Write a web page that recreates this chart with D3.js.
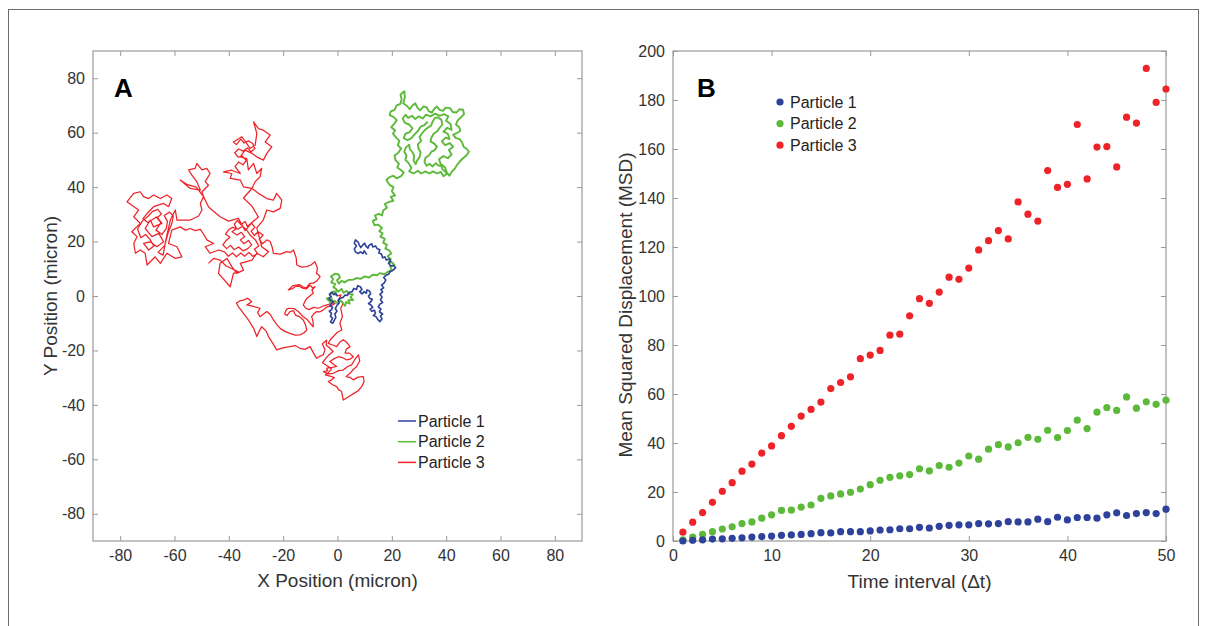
<!DOCTYPE html>
<html><head><meta charset="utf-8">
<script src="https://cdn.jsdelivr.net/npm/d3@7"></script>
<style>body{margin:0;background:#fff}svg{display:block}</style>
</head><body>
<script>
// ---------- DATA ----------
const seriesNames = ["Particle 1", "Particle 2", "Particle 3"];
const seriesColors = ["#2e429c", "#5db93a", "#ee2328"];

// Panel A trajectories (micron)
const particle1Path = [[0,0],[-0.6,0.9],[-1.4,0.5],[-2.1,1.4],[-3.0,0.6],[-2.4,-0.2],[-3.2,-1.0],[-2.5,-1.6],[-1.5,-2.1],[-2.2,-2.8],[-2.8,-3.6],[-1.8,-4.2],[-2.2,-5.0],[-3.0,-5.6],[-2.2,-6.4],[-2.6,-7.4],[-1.8,-8.2],[-2.6,-9.5],[-1.8,-10.0],[-1.2,-9.0],[-0.6,-7.8],[-1.0,-6.6],[-0.2,-5.6],[-0.8,-4.6],[-0.2,-3.4],[0.6,-2.6],[0.2,-1.6],[1.0,-0.8],[2.1,-0.5],[2.8,0.4],[3.6,0.2],[4.4,1.4],[5.4,1.6],[6.0,2.8],[7.0,2.4],[7.4,3.8],[8.4,3.4],[9.0,2.4],[8.2,1.6],[9.0,0.8],[9.8,1.6],[10.6,1.0],[10.8,2.2],[11.8,1.8],[12.2,0.8],[11.4,0.0],[11.8,-0.8],[12.8,-1.2],[12.2,-2.2],[11.4,-2.8],[12.4,-3.4],[13.0,-4.2],[12.0,-4.8],[12.6,-5.6],[13.6,-5.2],[14.0,-6.4],[13.2,-7.2],[14.2,-7.6],[14.8,-8.6],[15.6,-9.4],[16.4,-8.4],[15.8,-7.4],[16.6,-6.6],[15.4,-5.8],[16.0,-4.8],[15.0,-4.0],[15.6,-3.0],[16.6,-2.4],[15.8,-1.4],[16.4,-0.4],[15.6,0.6],[16.6,1.4],[16.0,2.4],[17.0,3.0],[16.2,4.0],[17.2,4.8],[17.8,5.9],[17.0,6.8],[17.8,7.6],[18.8,8.0],[19.4,9.0],[20.4,9.4],[21.4,10.4],[20.6,11.2],[19.6,11.0],[18.8,12.0],[19.6,12.8],[19.0,13.6],[18.0,13.2],[17.4,14.4],[16.6,14.0],[16.2,15.4],[15.2,15.8],[15.6,17.0],[14.6,17.4],[14.0,18.4],[13.0,18.0],[12.6,19.2],[11.6,18.6],[11.2,17.6],[10.4,18.4],[10.0,19.4],[9.2,18.6],[8.6,17.8],[8.0,18.8],[7.6,19.8],[6.6,20.6],[6.2,19.4],[7.0,18.4],[6.2,17.4],[6.6,16.2],[7.6,15.6],[8.4,16.2],[9.4,15.6],[9.8,16.6],[10.8,15.2]];

const particle2Path = [[0,0],[-1.2,0.8],[-0.5,1.8],[-1.8,1.5],[-2.8,0.4],[-2.2,-0.6],[-4.0,-0.9],[-3.2,-1.8],[-2.0,-1.2],[-2.8,-2.6],[-1.0,-1.8],[0.2,-2.8],[0.9,-1.5],[1.8,-2.4],[2.8,-3.6],[3.2,-2.2],[4.5,-2.8],[4.0,-1.5],[5.8,-1.5],[4.8,-0.5],[5.6,0.6],[4.2,0.8],[3.4,1.9],[2.2,1.2],[1.5,2.6],[0.2,1.6],[-0.5,2.6],[-1.5,3.2],[-0.8,4.4],[-2.3,5.0],[-1.6,6.2],[-2.4,7.2],[-1.0,8.2],[0.3,8.0],[0.9,6.8],[-0.2,5.8],[0.5,4.6],[1.6,5.6],[2.6,5.0],[4.0,5.9],[5.8,6.0],[7.0,6.6],[8.5,6.3],[10.0,7.2],[11.6,6.8],[13.0,7.8],[14.6,7.6],[15.6,8.4],[17.2,8.0],[18.7,9.0],[20.0,9.6],[19.4,10.8],[21.0,11.4],[20.0,12.4],[18.8,12.2],[19.6,13.6],[18.4,14.6],[19.8,15.6],[19.0,16.8],[17.6,17.4],[18.2,18.8],[16.8,19.6],[17.4,21.0],[15.8,21.8],[16.6,23.0],[15.4,23.8],[16.4,25.0],[15.0,26.2],[13.6,26.0],[13.0,27.6],[14.4,28.2],[13.8,29.6],[15.2,30.2],[16.4,29.6],[16.8,31.4],[18.2,32.4],[17.4,33.8],[19.0,34.6],[20.6,35.0],[19.6,36.4],[21.2,37.0],[20.0,38.4],[20.6,40.0],[19.2,40.8],[18.0,42.6],[19.0,43.6],[20.6,44.2],[21.8,43.2],[23.4,44.0],[24.4,45.4],[23.2,46.4],[22.0,47.2],[22.6,48.6],[21.4,49.8],[21.0,51.6],[22.4,52.6],[23.4,54.2],[22.2,55.4],[22.8,57.0],[21.6,58.2],[20.4,59.6],[21.2,60.8],[19.8,62.0],[20.8,63.2],[21.8,64.6],[20.6,65.8],[19.2,66.4],[19.6,67.8],[21.0,68.4],[21.8,70.0],[23.2,70.6],[23.6,72.4],[23.2,74.0],[24.6,75.2],[24.8,73.0],[24.2,70.8],[25.6,69.8],[26.6,68.6],[27.6,70.0],[28.6,70.8],[29.4,69.2],[30.4,68.2],[31.6,69.6],[32.8,69.4],[33.6,67.8],[34.8,67.4],[35.6,68.8],[36.6,69.6],[37.6,68.4],[38.8,68.0],[39.8,69.2],[41.4,69.0],[42.4,67.6],[43.8,67.4],[44.8,68.6],[46.2,68.4],[46.6,66.8],[45.4,65.6],[44.2,64.4],[43.6,63.0],[44.8,62.0],[45.2,60.6],[43.8,59.8],[42.6,59.2],[43.6,58.0],[45.0,57.6],[46.0,56.2],[46.4,54.8],[47.6,54.0],[48.4,53.0],[47.4,51.6],[46.2,50.6],[45.0,49.4],[44.0,48.2],[43.2,46.8],[42.0,45.6],[41.2,44.2],[40.2,45.4],[39.6,47.2],[38.4,48.2],[37.2,47.8],[36.2,48.8],[35.0,47.6],[33.8,48.6],[32.8,47.8],[32.0,49.2],[32.4,50.8],[33.6,51.6],[34.6,53.0],[35.8,53.6],[36.6,54.8],[35.6,56.0],[34.2,56.8],[34.6,58.2],[35.4,59.6],[36.6,60.4],[37.6,61.8],[38.6,63.0],[38.2,64.8],[37.0,65.6],[35.8,65.4],[35.0,64.0],[34.4,62.6],[33.2,61.8],[32.0,60.8],[31.0,59.6],[30.2,58.4],[30.8,57.0],[29.6,55.8],[29.8,54.2],[30.6,52.8],[30.2,51.0],[29.2,49.6],[28.8,48.4],[28.0,49.8],[28.2,51.6],[27.6,52.8],[26.6,54.0],[26.4,55.6],[25.2,54.6],[24.6,53.0],[25.4,51.6],[25.0,50.0],[26.2,48.8],[27.2,47.0],[26.4,45.8],[28.0,45.0],[29.6,46.0],[30.8,45.0],[32.4,45.8],[33.8,45.0],[35.2,45.8],[36.6,45.0],[38.0,45.6],[39.0,44.0],[40.4,45.0],[38.6,46.6],[37.4,50.2],[39.0,51.4],[40.6,50.6],[42.0,52.0],[41.0,53.6],[42.6,54.8],[41.4,56.2],[39.6,55.4],[38.4,56.8],[39.8,58.2],[41.2,57.6],[40.6,59.6],[39.0,60.4],[40.4,61.8],[42.0,61.0],[41.6,63.2],[40.0,64.4],[40.8,66.0],[39.2,66.8],[37.6,66.2],[36.0,67.0],[34.2,66.0],[32.6,66.6],[31.4,65.2],[30.0,66.0],[28.6,65.0],[27.4,66.2],[26.0,65.4],[25.0,66.6],[24.0,65.2],[24.8,63.6],[26.4,63.0],[27.6,61.6],[26.6,60.2],[25.0,59.6],[24.4,58.0],[25.8,57.2],[27.2,58.0],[28.4,59.4],[29.6,60.6],[30.6,62.2],[32.0,62.8],[33.2,64.0]];

const particle3Path = [[0,0],[1.3,0.4],[0.5,-1.2],[2.1,-2.7],[1.2,-4.5],[1.8,-7.5],[0.9,-10.0],[1.6,-12.5],[-0.2,-13.4],[-1.5,-14.9],[-2.6,-16.0],[-3.4,-17.4],[-1.8,-18.0],[-0.3,-18.6],[0.8,-17.0],[2.1,-16.1],[3.4,-17.0],[4.6,-18.6],[3.2,-19.6],[2.8,-21.0],[4.4,-21.0],[5.8,-22.3],[4.6,-23.2],[3.4,-23.5],[1.8,-22.6],[0.3,-22.3],[-1.2,-23.0],[-2.8,-24.1],[-1.6,-25.0],[-0.3,-25.9],[-2.0,-26.2],[-4.0,-26.5],[-3.6,-27.4],[-5.2,-27.8],[-3.4,-28.6],[-1.5,-28.4],[0.4,-27.4],[2.1,-27.2],[3.6,-26.0],[5.2,-25.3],[6.2,-23.6],[7.7,-21.6],[8.2,-23.8],[7.1,-25.9],[5.8,-27.0],[4.6,-28.4],[3.2,-29.6],[4.8,-30.0],[5.8,-30.8],[7.6,-29.8],[9.5,-29.6],[9.8,-31.4],[8.9,-33.3],[7.6,-34.8],[6.5,-35.5],[4.4,-36.8],[2.1,-38.2],[1.8,-36.6],[1.5,-35.1],[0.4,-34.4],[-0.3,-33.3],[-1.8,-32.6],[-3.4,-31.4],[-2.2,-30.8],[-1.2,-30.0],[-2.8,-29.4],[-4.5,-29.0],[-3.2,-28.0],[-2.2,-26.8],[-3.8,-25.6],[-5.5,-24.5],[-4.4,-23.0],[-3.0,-21.5],[-1.6,-20.4],[-2.8,-19.2],[-4.2,-18.0],[-4.0,-16.2],[-5.6,-17.6],[-4.6,-19.6],[-5.2,-21.6],[-6.6,-22.2],[-7.7,-22.9],[-8.8,-21.0],[-10.1,-18.6],[-12.0,-19.6],[-13.8,-19.2],[-15.6,-18.2],[-17.5,-18.6],[-19.8,-19.0],[-22.4,-19.8],[-23.8,-17.4],[-25.4,-14.9],[-26.2,-13.0],[-27.9,-11.3],[-29.0,-13.2],[-29.7,-14.9],[-30.8,-12.0],[-32.8,-8.8],[-34.6,-6.4],[-36.5,-3.9],[-37.2,-2.6],[-36.0,-1.8],[-34.6,-1.5],[-33.0,-0.8],[-31.6,-2.1],[-32.6,-2.8],[-33.4,-3.3],[-31.0,-3.8],[-28.5,-4.5],[-29.4,-6.0],[-28.5,-7.6],[-27.2,-6.6],[-26.0,-5.7],[-24.6,-7.0],[-23.6,-8.8],[-22.4,-10.4],[-21.1,-11.9],[-19.4,-13.0],[-17.5,-13.7],[-15.6,-14.4],[-13.8,-14.3],[-12.4,-13.6],[-11.3,-12.5],[-11.8,-10.6],[-12.6,-8.8],[-14.0,-7.6],[-15.5,-7.0],[-16.2,-5.4],[-17.5,-5.7],[-18.6,-7.2],[-19.5,-6.5],[-18.8,-5.0],[-18.0,-4.5],[-16.0,-4.6],[-14.4,-5.7],[-13.4,-6.8],[-12.6,-7.6],[-11.2,-8.6],[-10.1,-10.0],[-8.9,-11.3],[-9.0,-9.4],[-9.5,-7.6],[-8.6,-6.4],[-7.7,-5.7],[-6.4,-5.8],[-5.2,-5.1],[-4.2,-4.2],[-3.4,-3.9],[-2.0,-3.4],[-0.9,-2.7],[-1.8,-2.4],[-3.0,-3.0],[-5.0,-3.6],[-7.0,-4.5],[-8.8,-4.2],[-10.5,-5.0],[-11.8,-4.4],[-12.6,-3.3],[-12.0,-2.0],[-11.3,-0.9],[-10.0,0.2],[-8.9,1.0],[-9.4,2.2],[-8.3,3.4],[-9.2,3.0],[-10.1,4.0],[-11.4,2.6],[-12.6,2.8],[-14.2,3.6],[-15.6,3.4],[-16.8,2.6],[-18.1,2.2],[-16.4,3.8],[-14.0,4.2],[-12.8,3.4],[-11.5,3.0],[-10.2,4.6],[-8.9,4.7],[-7.4,5.8],[-6.4,7.1],[-7.0,7.8],[-7.7,8.3],[-7.4,10.4],[-8.3,12.6],[-9.8,11.4],[-11.3,10.8],[-13.2,10.6],[-15.0,11.4],[-15.2,14.0],[-16.2,16.9],[-17.4,16.0],[-18.7,16.3],[-21.0,15.4],[-23.6,15.7],[-24.0,17.8],[-24.8,20.0],[-26.0,20.6],[-27.6,19.2],[-28.8,20.8],[-27.4,22.4],[-29.2,23.6],[-30.6,22.2],[-31.8,23.8],[-30.4,25.2],[-31.6,26.8],[-33.2,25.6],[-34.0,27.4],[-35.6,26.2],[-36.8,27.8],[-38.0,26.4],[-37.2,24.8],[-38.8,23.6],[-37.0,22.4],[-35.4,23.4],[-34.2,21.8],[-35.8,20.6],[-34.4,19.2],[-32.8,20.4],[-31.6,18.8],[-33.0,17.4],[-34.8,16.6],[-36.4,18.0],[-38.0,17.0],[-39.4,18.6],[-40.8,17.4],[-42.2,18.8],[-41.0,20.4],[-39.6,21.6],[-41.2,22.8],[-40.0,24.4],[-38.6,25.2],[-36.6,24.6],[-35.0,25.6],[-33.4,24.2],[-32.0,22.2],[-30.2,20.6],[-29.0,18.4],[-30.6,17.2],[-29.4,15.6],[-31.2,14.6],[-32.6,16.0],[-34.2,14.6],[-35.6,15.8],[-37.2,14.4],[-38.6,15.8],[-40.2,14.6],[-41.6,16.2],[-43.8,16.9],[-46.9,15.7],[-48.7,18.1],[-45.6,19.3],[-48.1,20.6],[-49.2,22.6],[-50.5,24.5],[-52.4,24.0],[-54.2,24.8],[-56.0,24.2],[-57.9,25.4],[-61.0,24.2],[-62.2,19.3],[-59.1,18.1],[-57.3,14.4],[-59.7,13.8],[-62.8,15.7],[-65.2,12.0],[-67.1,14.4],[-70.1,11.4],[-70.8,15.7],[-72.6,16.9],[-74.4,15.7],[-75.0,19.3],[-73.8,21.8],[-75.7,23.6],[-72.6,26.7],[-75.0,29.1],[-73.2,31.6],[-77.5,34.6],[-75.0,37.7],[-72.6,38.3],[-71.4,36.5],[-69.5,35.8],[-67.7,37.1],[-65.2,35.8],[-62.8,37.1],[-61.0,35.8],[-62.2,32.8],[-64.0,34.0],[-67.7,32.8],[-70.1,30.3],[-71.6,28.4],[-69.8,27.0],[-66.5,29.1],[-64.6,26.7],[-67.7,25.4],[-68.9,27.9],[-70.8,24.8],[-68.3,21.8],[-65.8,23.0],[-64.0,19.9],[-66.5,18.1],[-68.9,19.9],[-71.4,19.3],[-69.5,16.9],[-67.6,18.4],[-69.2,21.0],[-70.6,22.6],[-72.4,21.4],[-73.6,24.6],[-71.8,27.6],[-69.6,29.4],[-68.2,31.0],[-66.2,31.8],[-64.8,30.2],[-66.4,28.6],[-65.0,27.0],[-66.8,24.2],[-64.6,22.6],[-63.0,24.8],[-62.6,27.4],[-63.8,29.6],[-61.8,30.8],[-60.4,29.4],[-61.0,26.6],[-62.4,23.0],[-63.6,18.6],[-66.0,16.0],[-64.2,15.0],[-63.0,21.5],[-61.5,28.0],[-59.7,31.6],[-59.1,27.9],[-56.7,27.9],[-54.2,27.9],[-51.1,29.4],[-49.9,31.6],[-50.5,34.0],[-49.3,36.5],[-49.9,38.3],[-47.5,40.7],[-48.7,42.0],[-46.9,45.0],[-48.1,46.9],[-49.9,46.3],[-51.8,48.7],[-52.4,46.9],[-54.8,46.3],[-53.6,44.4],[-51.8,42.0],[-50.5,38.9],[-54.2,39.5],[-57.9,42.6],[-55.5,41.0],[-52.0,40.0],[-49.3,36.5],[-47.5,32.8],[-46.2,31.6],[-43.2,29.1],[-40.1,27.5],[-36.5,28.5],[-34.0,24.0],[-31.5,27.0],[-29.1,29.0],[-31.5,33.0],[-34.6,36.0],[-31.5,39.5],[-34.6,40.1],[-35.8,42.6],[-39.5,43.2],[-38.9,45.0],[-42.0,45.6],[-39.0,46.2],[-35.8,45.0],[-37.7,47.5],[-36.4,49.2],[-34.8,48.2],[-33.6,49.8],[-35.0,51.4],[-36.6,51.0],[-37.8,52.6],[-36.4,54.0],[-34.8,53.2],[-33.2,54.4],[-31.8,53.0],[-30.4,54.2],[-31.2,56.0],[-32.8,57.0],[-34.4,56.2],[-35.6,57.6],[-37.2,55.6],[-38.3,56.6],[-35.2,58.5],[-33.4,56.0],[-32.2,54.2],[-30.3,55.4],[-29.7,59.7],[-30.9,64.0],[-29.1,61.5],[-27.3,60.9],[-24.8,59.1],[-26.6,56.6],[-24.2,54.8],[-26.0,52.4],[-27.3,49.9],[-29.7,51.1],[-31.5,52.4],[-34.0,53.6],[-35.8,51.1],[-33.4,50.5],[-32.8,46.3],[-30.9,48.7],[-29.7,45.0],[-27.9,46.9],[-28.5,43.8],[-30.3,42.0],[-31.5,39.5],[-29.1,37.7],[-26.0,35.8],[-23.6,35.2],[-22.4,37.7],[-20.5,35.2],[-21.1,32.2],[-23.6,30.9],[-26.0,31.6],[-27.3,28.0],[-29.7,25.0],[-27.9,18.1],[-25.4,16.3],[-27.3,14.4],[-29.7,15.7],[-31.5,13.2],[-35.8,12.0],[-34.6,9.5],[-37.1,8.3],[-38.9,10.8],[-40.7,13.8],[-43.2,12.0],[-43.8,8.3],[-39.5,3.4],[-38.3,8.3],[-36.5,8.9],[-41.0,11.0],[-43.2,13.2],[-45.6,13.8],[-47.5,12.0]];

// Panel B: MSD vs time interval
const timeIntervals = d3.range(1, 51);
const msdParticle1 = [0.0,0.3,0.5,0.8,0.9,1.1,1.3,1.6,1.8,2.0,2.3,2.5,2.7,3.0,3.4,3.3,3.8,3.8,3.8,4.1,4.5,4.6,5.0,5.0,5.6,5.3,6.0,6.4,6.6,6.6,7.1,7.0,7.1,7.9,7.8,7.8,8.9,7.9,9.7,8.6,9.6,9.6,9.3,10.7,11.5,10.4,11.2,11.6,11.2,13.0];
const msdParticle2 = [0.5,1.6,2.7,3.8,4.9,5.8,7.1,7.8,9.3,10.7,12.5,12.6,13.8,14.7,17.4,18.4,19.2,19.9,21.2,23.0,24.8,26.0,26.6,27.1,29.5,28.6,30.8,30.1,31.8,34.7,33.4,37.5,39.3,38.4,40.1,42.3,41.5,45.2,42.2,45.1,49.3,45.9,52.6,54.5,53.3,58.8,54.2,56.8,55.8,57.5];
const msdParticle3 = [3.6,7.7,11.6,15.8,20.3,23.8,28.5,31.4,35.9,38.8,43.0,46.8,51.0,53.7,56.7,62.2,64.7,67.0,74.4,75.9,77.8,84.0,84.4,91.9,98.9,97.0,101.6,107.7,106.8,111.4,118.8,122.6,126.7,123.3,138.4,133.4,130.6,151.2,144.3,145.6,170.0,147.8,160.8,161.0,152.7,173.0,170.6,192.9,179.0,184.5];

const xTicksA = [-80,-60,-40,-20,0,20,40,60,80];
const yTicksA = [-80,-60,-40,-20,0,20,40,60,80];
const xTicksB = [0,10,20,30,40,50];
const yTicksB = [0,20,40,60,80,100,120,140,160,180,200];

// ---------- DRAW ----------
const W = 1207, H = 626;
const FONT = "'Liberation Sans', Arial, Helvetica, sans-serif";
const svg = d3.select("body").append("svg").attr("width", W).attr("height", H)
  .style("font-family", FONT);

svg.append("rect").attr("x", 8.5).attr("y", 9.5).attr("width", 1190).attr("height", 640)
  .attr("fill", "none").attr("stroke", "#6e6e6e").attr("stroke-width", 1);

const boxColor = "#9a9a9a", textColor = "#333";
const fmt = d => String(d);

function frame(g, x, y, xt, yt) {
  const [x0, x1] = x.range(), [y0, y1] = y.range();
  const bottom = g.append("g").attr("transform", `translate(0,${y0})`)
    .call(d3.axisBottom(x).tickValues(xt).tickFormat(fmt).tickSizeInner(-5).tickSizeOuter(0).tickPadding(9));
  const left = g.append("g").attr("transform", `translate(${x0},0)`)
    .call(d3.axisLeft(y).tickValues(yt).tickFormat(fmt).tickSizeInner(-5).tickSizeOuter(0).tickPadding(8));
  const top = g.append("g").attr("transform", `translate(0,${y1})`)
    .call(d3.axisTop(x).tickValues(xt).tickSizeInner(-5).tickSizeOuter(0).tickFormat(""));
  const right = g.append("g").attr("transform", `translate(${x1},0)`)
    .call(d3.axisRight(y).tickValues(yt).tickSizeInner(-5).tickSizeOuter(0).tickFormat(""));
  [bottom, left, top, right].forEach(a => {
    a.select(".domain").remove();
    a.selectAll(".tick line").attr("stroke", boxColor);
    a.selectAll(".tick text").attr("fill", textColor).style("font-size", "16px").style("font-family", FONT);
  });
  g.append("rect").attr("x", x0).attr("y", y1).attr("width", x1 - x0).attr("height", y0 - y1)
    .attr("fill", "none").attr("stroke", boxColor).attr("stroke-width", 1.2);
}

// Panel A
const xA = d3.scaleLinear().domain([-90, 90]).range([93, 582]);
const yA = d3.scaleLinear().domain([-90, 90]).range([541, 51]);
const gA = svg.append("g");
const line = d3.line().x(d => xA(d[0])).y(d => yA(d[1]));
const paths = [particle1Path, particle2Path, particle3Path];
const widths = [1.6, 1.9, 1.25];
[2, 1, 0].forEach(i => {
  gA.append("path").datum(paths[i]).attr("d", line).attr("fill", "none")
    .attr("stroke", seriesColors[i]).attr("stroke-width", widths[i]).attr("stroke-linejoin", "round");
});
frame(gA, xA, yA, xTicksA, yTicksA);
gA.append("text").attr("x", 114).attr("y", 97).text("A")
  .style("font-size", "26px").style("font-weight", "bold").attr("fill", "#000");
gA.append("text").attr("x", (93 + 582) / 2).attr("y", 587).attr("text-anchor", "middle")
  .attr("fill", textColor).style("font-size", "19px").text("X Position (micron)");
gA.append("text").attr("transform", `translate(57,296) rotate(-90)`).attr("text-anchor", "middle")
  .attr("fill", textColor).style("font-size", "19px").text("Y Position (micron)");
seriesNames.forEach((n, i) => {
  const yy = 421 + i * 20.7;
  gA.append("line").attr("x1", 398).attr("x2", 416).attr("y1", yy).attr("y2", yy)
    .attr("stroke", seriesColors[i]).attr("stroke-width", 1.5);
  gA.append("text").attr("x", 418).attr("y", yy).attr("dy", "0.35em").attr("fill", "#222")
    .style("font-size", "16px").text(n);
});

// Panel B
const xB = d3.scaleLinear().domain([0, 50]).range([673, 1166]);
const yB = d3.scaleLinear().domain([0, 200]).range([541, 51]);
const gB = svg.append("g");
const msd = [msdParticle1, msdParticle2, msdParticle3];
frame(gB, xB, yB, xTicksB, yTicksB);
[2, 1, 0].forEach(i => {
  gB.append("g").selectAll("circle").data(timeIntervals).join("circle")
    .attr("cx", t => xB(t)).attr("cy", (t, j) => yB(msd[i][j])).attr("r", 3.6)
    .attr("fill", seriesColors[i]);
});
gB.append("text").attr("x", 697).attr("y", 97).text("B")
  .style("font-size", "26px").style("font-weight", "bold").attr("fill", "#000");
gB.append("text").attr("x", (673 + 1166) / 2).attr("y", 588).attr("text-anchor", "middle")
  .attr("fill", textColor).style("font-size", "19px").text("Time interval (\u0394t)");
gB.append("text").attr("transform", `translate(632,305) rotate(-90)`).attr("text-anchor", "middle")
  .attr("fill", textColor).style("font-size", "19px").text("Mean Squared Displacement (MSD)");
seriesNames.forEach((n, i) => {
  const yy = 102 + i * 21.6;
  gB.append("circle").attr("cx", 780).attr("cy", yy).attr("r", 3.6).attr("fill", seriesColors[i]);
  gB.append("text").attr("x", 790).attr("y", yy).attr("dy", "0.35em").attr("fill", "#222")
    .style("font-size", "16px").text(n);
});
</script>
</body></html>
